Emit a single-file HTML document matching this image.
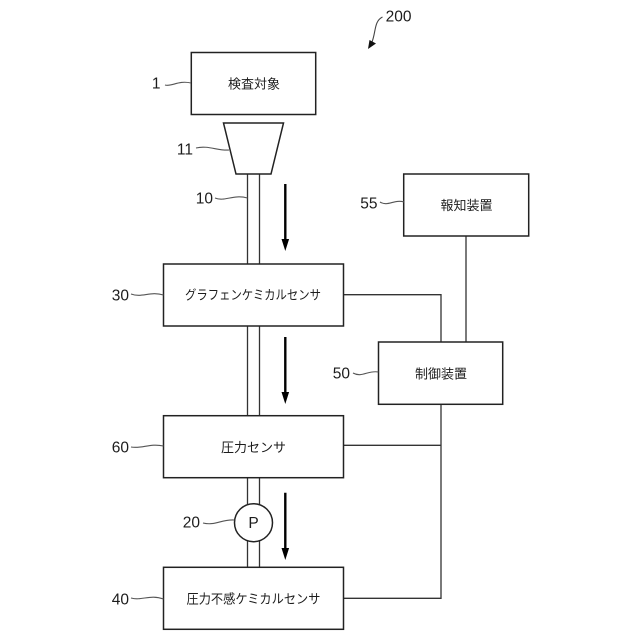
<!DOCTYPE html>
<html><head><meta charset="utf-8"><style>
html,body{margin:0;padding:0;background:#fff}
svg{display:block}
text{font-family:"Liberation Sans","Noto Sans CJK JP",sans-serif;fill:#1c1c1c}
.j{font-size:13px;text-anchor:middle}
.n{font-size:15.5px;text-anchor:end}
.b{fill:#fff;stroke:#222;stroke-width:1.5}
.l{fill:none;stroke:#333;stroke-width:1.3}
.w{fill:none;stroke:#555;stroke-width:1.1}
</style></head><body>
<svg width="640" height="640" viewBox="0 0 640 640" xmlns="http://www.w3.org/2000/svg">
<!-- pipes -->
<path class="l" d="M247.5 174V264M259.5 174V264M247.5 326V416M259.5 326V416M247.5 478V568M259.5 478V568"/>
<!-- wires -->
<path class="l" d="M343.5 294.7H441V342M441 404V598.3H343.5M343.5 445.3H441M466 236V342"/>
<!-- boxes -->
<rect class="b" x="191.3" y="52.5" width="124.4" height="62"/>
<path class="b" d="M223.5 123H283.5L271 174H236Z"/>
<rect class="b" x="163.5" y="264" width="180" height="62"/>
<rect class="b" x="163.5" y="415.7" width="180" height="62"/>
<rect class="b" x="163.5" y="567.3" width="180" height="62"/>
<rect class="b" x="403.7" y="174" width="125" height="62"/>
<rect class="b" x="378.5" y="342" width="124.2" height="62.3"/>
<circle class="b" cx="253.5" cy="522.7" r="19"/>
<!-- flow arrows -->
<g fill="#000" stroke="#000">
<path stroke-width="2.4" d="M285.3 184V240M285.3 337V394M285.3 492.7V549"/>
<path stroke="none" d="M281.5 239H289.1L285.3 251ZM281.5 392H289.1L285.3 404ZM281.5 548H289.1L285.3 560Z"/>
</g>
<!-- box labels -->
<text class="j" x="254" y="88.5">検査対象</text>
<text class="j" x="253" y="299.5" textLength="136" lengthAdjust="spacingAndGlyphs">グラフェンケミカルセンサ</text>
<text class="j" x="253.5" y="452">圧力センサ</text>
<text class="j" x="253.5" y="603.5" textLength="134" lengthAdjust="spacingAndGlyphs">圧力不感ケミカルセンサ</text>
<text class="j" x="466.5" y="210">報知装置</text>
<text class="j" x="441" y="378.5">制御装置</text>
<text x="253.5" y="528" font-size="15.5" text-anchor="middle">P</text>
<!-- reference numerals -->
<text class="n" x="160.5" y="88.5">1</text>
<text class="n" x="193" y="154.5">11</text>
<text class="n" x="213" y="203.5">10</text>
<text class="n" x="129" y="300.5">30</text>
<text class="n" x="129" y="452.5">60</text>
<text class="n" x="200" y="527.5">20</text>
<text class="n" x="129" y="604.5">40</text>
<text class="n" x="377.5" y="208.5">55</text>
<text class="n" x="350" y="378.5">50</text>
<text class="n" x="411.5" y="21.5">200</text>
<!-- leader squiggles -->
<path class="w" d="M165 85C172 87 178 80 191 83"/>
<path class="w" d="M196 148C208 145 218 151 229 150"/>
<path class="w" d="M215 198C225 202 233 194 247.5 198"/>
<path class="w" d="M131 294C142 298 150 291 163.5 295"/>
<path class="w" d="M131 447C142 449 150 443 163.5 446"/>
<path class="w" d="M203 523C215 526 222 519 234.5 520"/>
<path class="w" d="M131 598C142 601 150 594 163.5 599"/>
<path class="w" d="M380 202C388 207 394 199 404 202"/>
<path class="w" d="M353 373C362 378 368 370 378.5 372"/>
<path fill="none" stroke="#444" stroke-width="1.1" d="M382.5 17C374 21 376 32 372 42"/>
<path fill="#111" d="M368 49L369.5 40L376 43.5Z"/>
</svg>
</body></html>
